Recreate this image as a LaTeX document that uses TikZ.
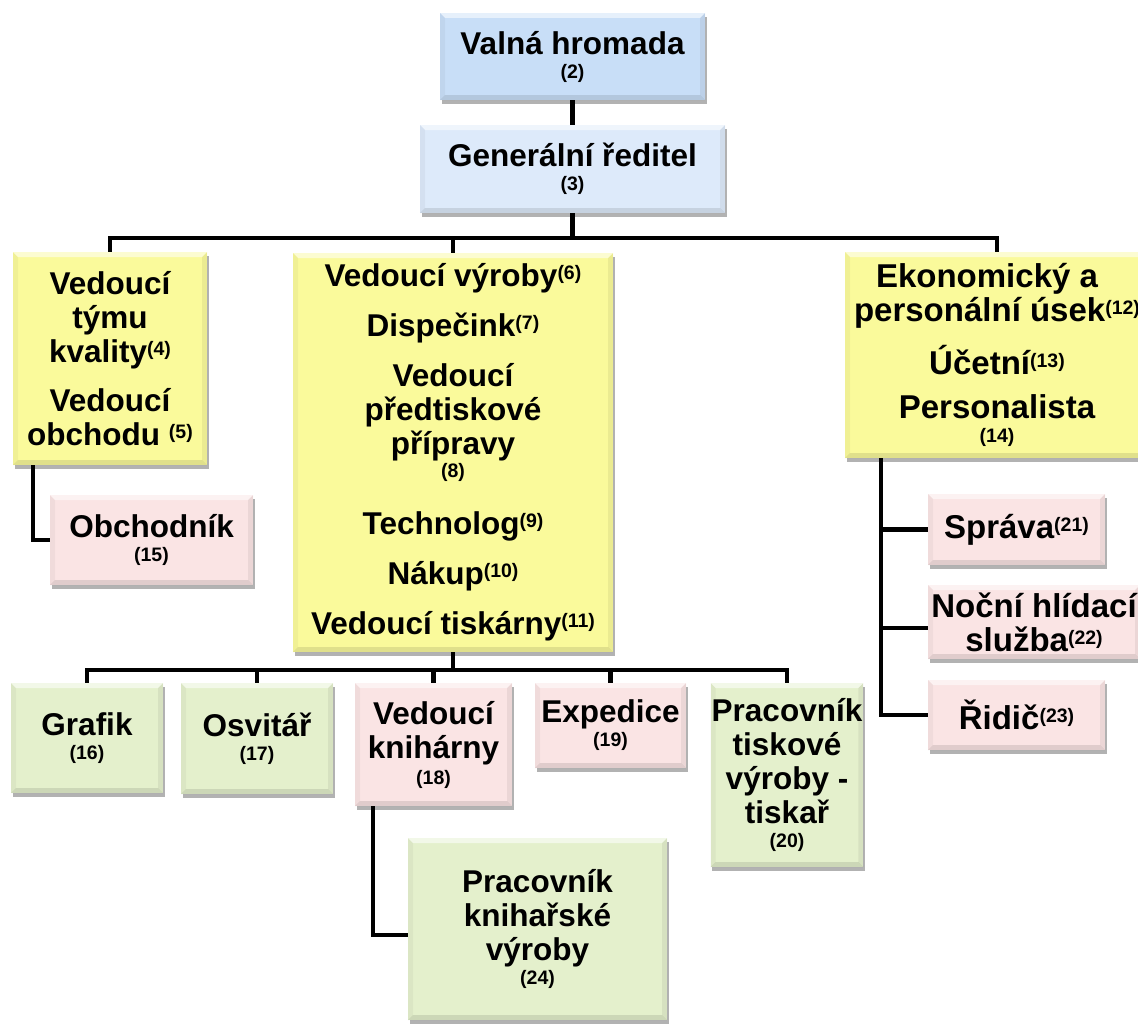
\documentclass[tikz,border=0pt]{standalone}
\usepackage{fontspec}
\setmainfont{Liberation Sans}
\usetikzlibrary{shadows}
\definecolor{cblueA}{RGB}{200,222,247}
\definecolor{cblueB}{RGB}{221,234,250}
\definecolor{cyel}{RGB}{250,250,155}
\definecolor{cpink}{RGB}{250,228,228}
\definecolor{cgreen}{RGB}{228,240,204}
\newcommand\supx[1]{\raisebox{7pt}{\fontsize{19.5}{19.5}\selectfont(#1)}}
\newcommand\numx[1]{{\fontsize{19.5}{19.5}\selectfont(#1)}}
\newcommand\boxfont{\fontsize{31.5}{34}\selectfont\bfseries}
\newcommand\bigboxfont{\fontsize{33}{34}\selectfont\bfseries}
\tikzset{
  bevel/.style={path picture={
    \fill[white,opacity=0.55] (path picture bounding box.north west) -- (path picture bounding box.north east)
      -- ([shift={(-5pt,-5pt)}]path picture bounding box.north east) -- ([shift={(5pt,-5pt)}]path picture bounding box.north west) -- cycle;
    \fill[black,opacity=0.04] (path picture bounding box.north west) -- (path picture bounding box.south west)
      -- ([shift={(5pt,5pt)}]path picture bounding box.south west) -- ([shift={(5pt,-5pt)}]path picture bounding box.north west) -- cycle;
    \fill[black,opacity=0.10] (path picture bounding box.south west) -- (path picture bounding box.south east)
      -- ([shift={(-5pt,5pt)}]path picture bounding box.south east) -- ([shift={(5pt,5pt)}]path picture bounding box.south west) -- cycle;
    \fill[black,opacity=0.06] (path picture bounding box.north east) -- (path picture bounding box.south east)
      -- ([shift={(-5pt,5pt)}]path picture bounding box.south east) -- ([shift={(-5pt,-5pt)}]path picture bounding box.north east) -- cycle;
  }},
  orgbox/.style={rectangle, align=center, inner sep=1pt, font=\boxfont, text=black,
    drop shadow={shadow xshift=1.5pt, shadow yshift=-4pt, opacity=0.3, fill=black}, bevel},
  blueA/.style={orgbox, fill=cblueA},
  blueB/.style={orgbox, fill=cblueB},
  yelbox/.style={orgbox, fill=cyel},
  pinkbox/.style={orgbox, fill=cpink},
  greenbox/.style={orgbox, fill=cgreen},
  conn/.style={draw=black, line width=4.5pt, line join=miter},
}
\begin{document}
\begin{tikzpicture}[x=1pt,y=-1pt]
\useasboundingbox (0,0) rectangle (1138,1025);
% top
\node[blueA, minimum width=265pt, minimum height=87pt] (vh) at (572.5,56.5) {Valná hromada\\[-10pt]\numx{2}};
\node[blueB, minimum width=305pt, minimum height=88pt] (gr) at (572.5,169) {Generální ředitel\\[-10pt]\numx{3}};
% second level
\node[yelbox, minimum width=194pt, minimum height=213pt] (lq) at (110,358.5)
  {Vedoucí\\týmu\\kvality\supx{4}\\[15pt]Vedoucí\\obchodu \supx{5}};
\node[yelbox, minimum width=320pt, minimum height=399pt] (mv) at (453,452.5)
  {Vedoucí výroby\supx{6}\\[16pt]Dispečink\supx{7}\\[16pt]Vedoucí\\předtiskové\\přípravy\\[-11pt]\numx{8}\\[23pt]Technolog\supx{9}\\[16pt]Nákup\supx{10}\\[16pt]Vedoucí tiskárny\supx{11}};
\node[yelbox, font=\bigboxfont, minimum width=304pt, minimum height=206pt] (rk) at (997,355)
  {Ekonomický a\hspace*{20pt}\\personální úsek\supx{12}\\[16pt]Účetní\supx{13}\\[10pt]Personalista\hspace*{16pt}\\[-10pt]\numx{14}};
% left branch
\node[pinkbox, minimum width=203pt, minimum height=90pt] (obch) at (151.5,540) {Obchodník\\[-10pt]\numx{15}};
% bottom row
\node[greenbox, minimum width=152pt, minimum height=110pt] (graf) at (87,738) {Grafik\\[-10pt]\numx{16}};
\node[greenbox, minimum width=152pt, minimum height=111pt] (osv) at (257,738.5) {Osvitář\\[-10pt]\numx{17}};
\node[pinkbox, minimum width=157pt, minimum height=123pt] (vk) at (433.5,744.5) {Vedoucí\\knihárny\\[-8pt]\numx{18}};
\node[pinkbox, minimum width=151pt, minimum height=85pt] (exp) at (610.5,725.5) {Expedice\\[-10pt]\numx{19}};
\node[greenbox, minimum width=150pt, minimum height=184pt] (ptisk) at (787,775) {Pracovník\\tiskové\\výroby -\\tiskař\\[-10pt]\numx{20}};
\node[greenbox, minimum width=259pt, minimum height=182pt] (pk) at (537.5,929) {Pracovník\\knihařské\\výroby\\[-10pt]\numx{24}};
% right branch
\node[pinkbox, font=\bigboxfont, minimum width=177pt, minimum height=71pt] (spr) at (1016.5,529.5) {Správa\supx{21}};
\node[pinkbox, font=\bigboxfont, minimum width=212pt, minimum height=74pt] (noc) at (1034,622) {Noční hlídací\\služba\supx{22}};
\node[pinkbox, font=\bigboxfont, minimum width=177pt, minimum height=70pt] (rid) at (1016.5,715) {Řidič\supx{23}};
% connectors
\coordinate (busA) at (572.5,238);
\draw[conn] (vh.south) -- (gr.north);
\draw[conn] (gr.south) -- (busA);
\draw[conn] (lq.north) |- (busA);
\draw[conn] (rk.north) |- (busA);
\draw[conn] (mv.north) -- (mv.north |- busA);
\coordinate (busB) at (453,670);
\draw[conn] (mv.south) -- (busB);
\draw[conn] (graf.north) |- (busB);
\draw[conn] (ptisk.north) |- (busB);
\draw[conn] (osv.north) -- (osv.north |- busB);
\draw[conn] (vk.north) -- (vk.north |- busB);
\draw[conn] (exp.north) -- (exp.north |- busB);
\draw[conn] ([xshift=20pt]lq.south west) |- (obch.west);
\draw[conn] ([xshift=18pt]vk.south west) |- ([yshift=-6pt]pk.west);
\coordinate (rv) at ([xshift=36pt]rk.south west);
\draw[conn] (rv) |- (rid.west);
\draw[conn] (spr.west) -- (spr.west -| rv);
\draw[conn] ([yshift=-6pt]noc.west) -- ([yshift=-6pt]noc.west -| rv);
\end{tikzpicture}
\end{document}
